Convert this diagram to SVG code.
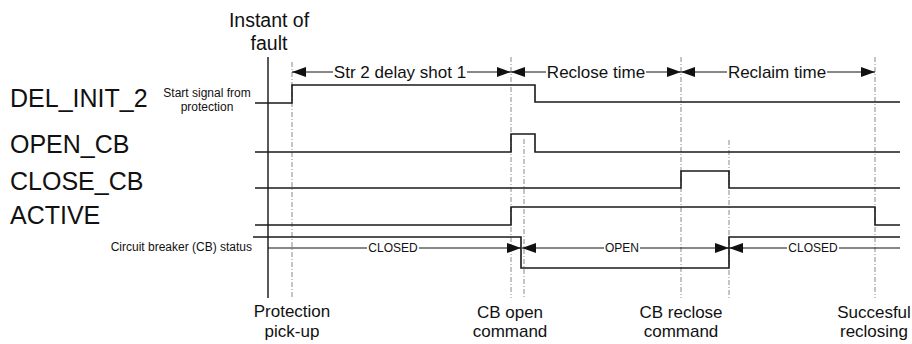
<svg xmlns="http://www.w3.org/2000/svg" width="912" height="344" viewBox="0 0 912 344">
<defs>
<marker id="ah" viewBox="0 0 14 10" refX="14" refY="5" markerWidth="14" markerHeight="10" markerUnits="userSpaceOnUse" orient="auto-start-reverse">
<path d="M0,0 L14,5 L0,10 z" fill="#111"/>
</marker>
</defs>
<style>
text{font-family:"Liberation Sans",Arial,sans-serif;fill:#111}
.big{font-size:25px}
.mid{font-size:17px}
.cap{font-size:19.5px}
.sm{font-size:12px}
.lbl{font-size:17px;text-anchor:middle}
.slbl{font-size:12px;text-anchor:middle}
.mask{fill:#fff}
.sig{fill:none;stroke:#1a1a1a;stroke-width:1.6}
.dash{stroke:#8a8a8a;stroke-width:1;stroke-dasharray:5,2,1,2;fill:none}
.axis{stroke:#222;stroke-width:1.5}
.arr{stroke:#111;stroke-width:1;fill:none}
</style>
<rect width="912" height="344" fill="#fff"/>
<g id="guides">
<line class="axis" x1="268" y1="57" x2="268" y2="298"/>
<line class="dash" x1="292" y1="62" x2="292" y2="298"/>
<line class="dash" x1="511" y1="57" x2="511" y2="298"/>
<line class="dash" x1="524" y1="139" x2="524" y2="298"/>
<line class="dash" x1="681" y1="57" x2="681" y2="298"/>
<line class="dash" x1="729" y1="140" x2="729" y2="298"/>
<line class="dash" x1="875" y1="57" x2="875" y2="298"/>
</g>
<g id="fault-label">
<text class="cap" x="269" y="27" text-anchor="middle">Instant of</text>
<text class="cap" x="269" y="50" text-anchor="middle">fault</text>
</g>
<g id="del_init_2">
<text class="big" x="10" y="107">DEL_INIT_2</text>
<text class="sm" x="207" y="97" text-anchor="middle">Start signal from</text>
<text class="sm" x="207" y="111" text-anchor="middle">protection</text>
<polyline class="sig" points="255,103 292,103 292,85 535,85 535,102 900,102"/>
</g>
<g id="open_cb">
<text class="big" x="10" y="153">OPEN_CB</text>
<polyline class="sig" points="255,152 511,152 511,134 535,134 535,152 900,152"/>
</g>
<g id="close_cb">
<text class="big" x="10" y="190">CLOSE_CB</text>
<polyline class="sig" points="255,188 681,188 681,171 729,171 729,188 900,188"/>
</g>
<g id="active">
<text class="big" x="10" y="224">ACTIVE</text>
<polyline class="sig" points="255,225 511,225 511,207 875,207 875,225 900,225"/>
</g>
<g id="cb_status">
<text class="sm" x="252" y="251" text-anchor="end">Circuit breaker (CB) status</text>
<polyline class="sig" points="253,237 521,237 521,268 729,268 729,237 900,237"/>
</g>
<g id="connectors">
<line class="arr" x1="292" y1="72" x2="511" y2="72" marker-start="url(#ah)" marker-end="url(#ah)"/>
<line class="arr" x1="511" y1="72" x2="681" y2="72" marker-start="url(#ah)" marker-end="url(#ah)"/>
<line class="arr" x1="681" y1="72" x2="875" y2="72" marker-start="url(#ah)" marker-end="url(#ah)"/>
<line class="arr" x1="268" y1="248" x2="521" y2="248" marker-end="url(#ah)"/>
<line class="arr" x1="522" y1="248" x2="729" y2="248" marker-start="url(#ah)" marker-end="url(#ah)"/>
<line class="arr" x1="729" y1="248" x2="900" y2="248" marker-start="url(#ah)"/>
</g>
<g id="interval-labels">
<rect class="mask" x="333" y="64" width="134" height="16"/>
<rect class="mask" x="546" y="64" width="100" height="16"/>
<rect class="mask" x="727" y="64" width="100" height="16"/>
<rect class="mask" x="367" y="242" width="52" height="12"/>
<rect class="mask" x="604" y="242" width="36" height="12"/>
<rect class="mask" x="787" y="242" width="52" height="12"/>
<text class="lbl" x="400" y="78">Str 2 delay shot 1</text>
<text class="lbl" x="596" y="78">Reclose time</text>
<text class="lbl" x="777" y="78">Reclaim time</text>
<text class="slbl" x="393" y="252">CLOSED</text>
<text class="slbl" x="622" y="252">OPEN</text>
<text class="slbl" x="813" y="252">CLOSED</text>
</g>
<g id="event-labels">
<text class="mid" x="292" y="317" text-anchor="middle">Protection</text>
<text class="mid" x="292" y="337" text-anchor="middle">pick-up</text>
<text class="mid" x="510" y="318" text-anchor="middle">CB open</text>
<text class="mid" x="510" y="337" text-anchor="middle">command</text>
<text class="mid" x="681" y="318" text-anchor="middle">CB reclose</text>
<text class="mid" x="681" y="337" text-anchor="middle">command</text>
<text class="mid" x="874" y="318" text-anchor="middle">Succesful</text>
<text class="mid" x="874" y="337" text-anchor="middle">reclosing</text>
</g>
</svg>
